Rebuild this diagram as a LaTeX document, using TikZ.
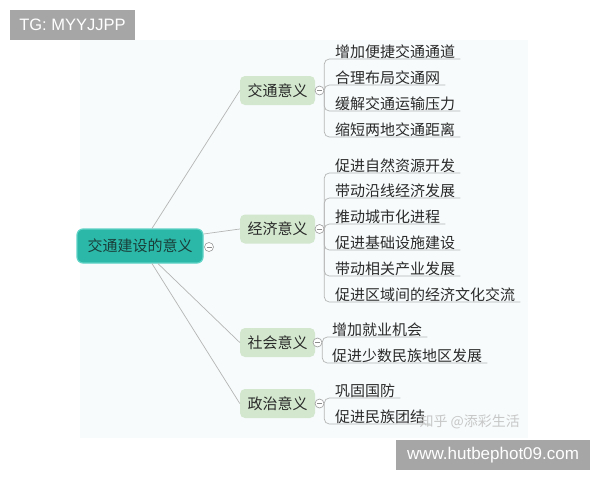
\documentclass[tikz,border=0pt]{standalone}
\usepackage{fontspec}
\setmainfont{Liberation Sans}
\newfontfamily\cjk{Noto Sans CJK SC}
\usetikzlibrary{calc}
\definecolor{bgc}{HTML}{F7FBFC}
\definecolor{rootc}{HTML}{2BB8A8}
\definecolor{rootb}{HTML}{5FD3C6}
\definecolor{roottext}{HTML}{1A3F3A}
\definecolor{branchc}{HTML}{D2E7CD}
\definecolor{txt}{HTML}{2A2A2A}
\definecolor{linec}{HTML}{B5B5B5}
\definecolor{boxc}{HTML}{A6A6A6}
\tikzset{
  rootnode/.style={rounded corners=6pt, fill=rootc, draw=rootb, line width=1.2pt,
    minimum width=126pt, minimum height=34pt, inner sep=0pt,
    font=\cjk\fontsize{15}{17}\selectfont, text=roottext},
  branchnode/.style={rounded corners=5pt, fill=branchc, minimum width=75pt,
    minimum height=29pt, inner sep=0pt, font=\cjk\fontsize{15}{17}\selectfont, text=txt},
  leafnode/.style={anchor=south west, inner xsep=0pt, inner ysep=0.5pt,
    text height=11pt, text depth=1pt, font=\cjk\fontsize{15}{17}\selectfont, text=txt},
  collapse/.style={circle, draw=black!40, fill=white, minimum size=9pt, inner sep=0pt,
    line width=0.6pt,
    path picture={\draw[black!45, line width=0.6pt]
      ([xshift=2pt]path picture bounding box.west) -- ([xshift=-2pt]path picture bounding box.east);}},
  conn/.style={draw=linec, line width=0.7pt},
  leafline/.style={draw=linec, line width=0.7pt, rounded corners=5pt},
  greybox/.style={fill=boxc, inner sep=0pt, text=white, font=\fontsize{16.5}{18}\selectfont}
}
\begin{document}
\begin{tikzpicture}[x=1pt,y=-1pt]
\useasboundingbox (0,0) rectangle (600,480);
\fill[bgc] (80,40) rectangle (528,438);

% root
\node[rootnode] (root) at (140,246) {交通建设的意义};
\node[collapse] (c0) at (209,247) {};

% branches
\node[branchnode] (b1) at (277.5,90.5) {交通意义};
\node[branchnode] (b2) at (277.5,229) {经济意义};
\node[branchnode] (b3) at (277.5,342.5) {社会意义};
\node[branchnode] (b4) at (277.5,403.5) {政治意义};

\draw[conn] ($(root.north)+(12,0)$) -- (b1.west);
\draw[conn] ($(root.east)+(0,-12)$) -- (b2.west);
\draw[conn] ($(root.south)+(18,0)$) -- (b3.west);
\draw[conn] ($(root.south)+(12,0)$) -- (b4.west);

\node[collapse] (c1) at (319.5,90.5) {};
\node[collapse] (c2) at (319.5,229) {};
\node[collapse] (c3) at (317.5,342.5) {};
\node[collapse] (c4) at (319.5,403.5) {};

% leaves: transport
\node[leafnode] (l1) at (335,59) {增加便捷交通通道};
\node[leafnode] (l2) at (335,85) {合理布局交通网};
\node[leafnode] (l3) at (335,111) {缓解交通运输压力};
\node[leafnode] (l4) at (335,137) {缩短两地交通距离};
\foreach \n in {l1,l2,l3,l4}
  \draw[leafline] (c1.east) |- (\n.south west) -- ($(\n.south east)+(5,0)$);

% leaves: economy
\node[leafnode] (l5) at (335,173) {促进自然资源开发};
\node[leafnode] (l6) at (335,198) {带动沿线经济发展};
\node[leafnode] (l7) at (335,224) {推动城市化进程};
\node[leafnode] (l8) at (335,250) {促进基础设施建设};
\node[leafnode] (l9) at (335,276) {带动相关产业发展};
\node[leafnode] (l10) at (335,302) {促进区域间的经济文化交流};
\foreach \n in {l5,l6,l7,l8,l9,l10}
  \draw[leafline] (c2.east) |- (\n.south west) -- ($(\n.south east)+(5,0)$);

% leaves: society
\node[leafnode] (l11) at (332,337) {增加就业机会};
\node[leafnode] (l12) at (332,363) {促进少数民族地区发展};
\foreach \n in {l11,l12}
  \draw[leafline] (c3.east) |- (\n.south west) -- ($(\n.south east)+(5,0)$);

% leaves: politics
\node[leafnode] (l13) at (335,398) {巩固国防};
\node[leafnode] (l14) at (335,424) {促进民族团结};
\foreach \n in {l13,l14}
  \draw[leafline] (c4.east) |- (\n.south west) -- ($(\n.south east)+(5,0)$);

% watermarks
\node[text=black!22, font=\cjk\fontsize{14}{16}\selectfont, anchor=west] (wm) at (416,422) {知乎 @添彩生活};
\node[greybox, minimum width=125pt, minimum height=30pt] (tg) at (72.5,25) {TG: MYYJJPP};
\node[greybox, minimum width=194pt, minimum height=30pt, font=\fontsize{17}{19}\selectfont] (url) at (493,455) {www.hutbephot09.com};
\end{tikzpicture}
\end{document}
